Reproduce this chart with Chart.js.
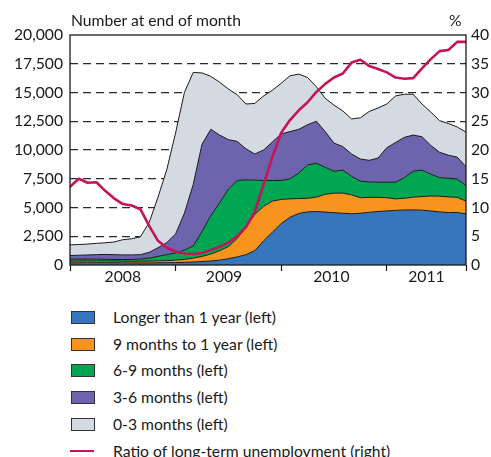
<!DOCTYPE html>
<html>
<head>
<meta charset="utf-8">
<script src="https://cdn.jsdelivr.net/npm/chart.js@4/dist/chart.umd.min.js"></script>
<style>
  html, body { margin: 0; padding: 0; background: #fff; }
  #wrap { position: relative; width: 491px; height: 457px; overflow: hidden; font-family: Lato, "Open Sans", sans-serif; color: #1a1a1a; }
  #chartBox { position: absolute; left: 0; top: 0; width: 491px; height: 290px; }
  .lbl { position: absolute; font-size: 15.7px; line-height: 18px; white-space: nowrap; }
  .row { position: absolute; left: 0; height: 18px; }
  .swatch { position: absolute; left: 71px; top: 3px; width: 22px; height: 11px; border: 1px solid #333; }
  .lineKey { position: absolute; left: 70px; top: 8px; width: 24px; height: 0; border-top: 2.5px solid #c4145a; }
  .txt { position: absolute; left: 113px; top: 0; font-size: 15.7px; line-height: 18px; white-space: nowrap; }
</style>
</head>
<body>
<div id="wrap">
  <div id="chartBox"><canvas id="c" width="491" height="290"></canvas></div>
  <div class="lbl" style="left:71px; top:11px;">Number at end of month</div>
  <div class="lbl" style="left:449px; top:11px;">%</div>
  <div id="legend"></div>
</div>
<script>
// Monthly observations, January 2008 to October 2011 (end-of-month counts)
const months = [
  'Jan 08','Feb 08','Mar 08','Apr 08','May 08','Jun 08','Jul 08','Aug 08','Sep 08','Oct 08','Nov 08','Dec 08',
  'Jan 09','Feb 09','Mar 09','Apr 09','May 09','Jun 09','Jul 09','Aug 09','Sep 09','Oct 09','Nov 09','Dec 09',
  'Jan 10','Feb 10','Mar 10','Apr 10','May 10','Jun 10','Jul 10','Aug 10','Sep 10','Oct 10','Nov 10','Dec 10',
  'Jan 11','Feb 11','Mar 11','Apr 11','May 11','Jun 11','Jul 11','Aug 11','Sep 11','Oct 11'
];

const longerThan1Year = [180,190,200,200,200,200,190,180,180,180,190,200,210,230,260,300,350,420,550,700,900,1250,2100,2850,3600,4150,4480,4620,4650,4600,4550,4500,4450,4500,4580,4650,4700,4750,4780,4790,4770,4700,4620,4560,4560,4450];
const months9to12 = [150,150,150,150,150,140,140,140,150,160,170,180,210,250,340,450,600,830,1050,1600,2400,3150,3000,2700,2100,1600,1300,1180,1250,1550,1700,1750,1650,1350,1300,1230,1150,1000,1020,1110,1180,1300,1360,1360,1320,1100];
const months6to9 = [170,180,170,160,150,140,150,160,190,260,390,520,630,820,1050,2150,3350,4150,5000,5050,4100,2980,2250,1800,1650,1750,2220,2900,2950,2350,1900,2000,1600,1450,1340,1320,1350,1450,1800,2250,2300,1900,1620,1620,1600,1350];
const months3to6 = [320,330,350,390,420,420,400,400,380,500,750,1050,1650,3200,5350,7600,7500,5900,4300,3400,2700,2270,2650,3350,4050,4100,3800,3500,3650,3100,2450,2050,1950,1920,1880,2100,3000,3450,3500,3150,2900,2500,2200,2010,1900,1650];
const months0to3 = [930,930,950,980,1010,1100,1320,1400,1550,2600,4400,6350,8800,10500,9750,6200,4600,4600,4400,4050,3900,4400,4700,4500,4400,4850,4800,4100,3000,2900,3300,3100,3050,3580,4250,4350,3800,4050,3750,3550,2850,2900,2750,2750,2620,3000];
// Share of long-term unemployed, per cent (right axis)
const longTermRatio = [13.6,15.0,14.3,14.4,12.9,11.6,10.6,10.35,9.7,6.8,4.2,3.0,2.3,2.0,1.9,2.1,2.6,3.2,3.9,5.0,6.6,9.3,14.0,18.8,23.0,25.2,26.9,28.3,30.1,31.5,32.6,33.3,35.2,35.7,34.6,34.1,33.5,32.6,32.4,32.5,34.2,35.8,37.2,37.4,38.8,38.8];

// Axis tick labels
const leftTicks = [0,2500,5000,7500,10000,12500,15000,17500,20000];
const rightTicks = [0,5,10,15,20,25,30,35,40];
const yearNames = ['2008','2009','2010','2011'];
const yearLabelAt = [6, 17.5, 29.7, 40.5];   // month index where each year name is centred
const yearBoundaries = [0, 12, 24, 36, 45];  // month index of year-start tick marks

const seriesNames = ['Longer than 1 year (left)','9 months to 1 year (left)','6-9 months (left)','3-6 months (left)','0-3 months (left)'];
const ratioName = 'Ratio of long-term unemployment (right)';
const seriesValues = [longerThan1Year, months9to12, months6to9, months3to6, months0to3];
const fillColors = ['#3776bc','#f7941d','#00a651','#6d64ad','#d3dae2'];
const lineColor = '#c4145a';

const toPoints = arr => arr.map((v, i) => ({x: i, y: v}));

const areaSets = seriesValues.map((vals, k) => ({
  label: seriesNames[k],
  data: toPoints(vals),
  yAxisID: 'y',
  backgroundColor: fillColors[k],
  borderColor: '#1a1a1a',
  borderWidth: 1,
  pointRadius: 0,
  tension: 0,
  fill: k === 0 ? 'origin' : '-1',
  order: 2
}));

const ratioSet = {
  label: ratioName,
  data: toPoints(longTermRatio),
  yAxisID: 'y1',
  borderColor: lineColor,
  backgroundColor: lineColor,
  borderWidth: 2.6,
  borderJoinStyle: 'round',
  borderCapStyle: 'round',
  pointRadius: 0,
  tension: 0,
  fill: false,
  order: 0
};

const tickFont = {family: 'Lato, "Open Sans", sans-serif', size: 15.7};
const xTickValues = yearBoundaries.concat(yearLabelAt).sort((a, b) => a - b);

// Frame around the plotting area, drawn over the filled areas
const frame = {
  id: 'frame',
  afterDatasetsDraw(chart) {
    const a = chart.chartArea, c = chart.ctx;
    c.save();
    c.strokeStyle = '#1a1a1a';
    c.lineWidth = 1.3;
    c.strokeRect(a.left, a.top, a.right - a.left, a.bottom - a.top);
    c.restore();
  }
};

new Chart(document.getElementById('c'), {
  type: 'line',
  data: { datasets: [ratioSet].concat(areaSets) },
  options: {
    responsive: false,
    animation: false,
    layout: { padding: { left: 0, right: 0, top: 35, bottom: 0 } },
    plugins: { legend: { display: false }, tooltip: { enabled: false } },
    scales: {
      x: {
        type: 'linear', min: 0, max: 45,
        afterBuildTicks: s => { s.ticks = xTickValues.map(v => ({value: v})); },
        afterFit: s => { s.height = 25; },
        ticks: {
          autoSkip: false, maxRotation: 0, padding: -3,
          font: tickFont, color: '#1a1a1a',
          callback: v => { const k = yearLabelAt.indexOf(v); return k >= 0 ? yearNames[k] : ''; }
        },
        grid: {
          drawOnChartArea: false, drawTicks: true, tickLength: 6, tickWidth: 1.2,
          tickColor: ctx => (ctx.tick && yearBoundaries.includes(ctx.tick.value)) ? '#1a1a1a' : 'rgba(0,0,0,0)'
        },
        border: { display: false }
      },
      y: {
        type: 'linear', position: 'left', stacked: true, min: 0, max: 20000,
        afterBuildTicks: s => { s.ticks = leftTicks.map(v => ({value: v})); },
        afterFit: s => { s.width = 70; },
        ticks: { padding: 7, font: tickFont, color: '#1a1a1a', callback: v => v.toLocaleString('en-US') },
        grid: {
          drawTicks: false, lineWidth: 1.2,
          color: ctx => (ctx.tick && (ctx.tick.value === 0 || ctx.tick.value === 20000)) ? 'rgba(0,0,0,0)' : '#2a2a2a'
        },
        border: { display: false, dash: [8, 5] }
      },
      y1: {
        type: 'linear', position: 'right', min: 0, max: 40,
        afterBuildTicks: s => { s.ticks = rightTicks.map(v => ({value: v})); },
        afterFit: s => { s.width = 25; },
        ticks: { padding: 5, font: tickFont, color: '#1a1a1a' },
        grid: { drawOnChartArea: false, drawTicks: false },
        border: { display: false }
      }
    }
  },
  plugins: [frame]
});

// Legend below the chart
const legend = document.getElementById('legend');
const rowTop = 308, rowStep = 26.7;
seriesNames.forEach((name, k) => {
  const row = document.createElement('div');
  row.className = 'row';
  row.style.top = (rowTop + k * rowStep) + 'px';
  row.innerHTML = '<div class="swatch" style="background:' + fillColors[k] + '"></div><div class="txt"></div>';
  row.querySelector('.txt').textContent = name;
  legend.appendChild(row);
});
const lineRow = document.createElement('div');
lineRow.className = 'row';
lineRow.style.top = (rowTop + 5 * rowStep) + 'px';
lineRow.innerHTML = '<div class="lineKey"></div><div class="txt"></div>';
lineRow.querySelector('.txt').textContent = ratioName;
legend.appendChild(lineRow);
</script>
</body>
</html>
